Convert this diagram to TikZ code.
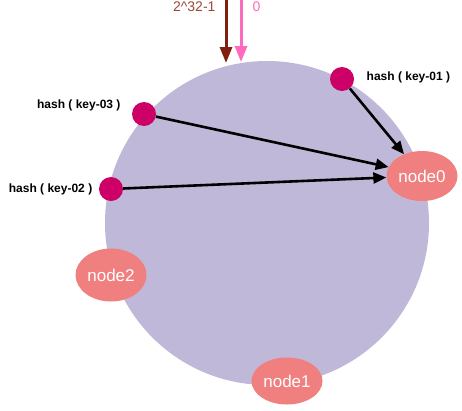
\documentclass[tikz,border=0pt]{standalone}
\usepackage{fontspec}
\setmainfont{Liberation Sans}
\usepackage{tikz}
\usetikzlibrary{arrows.meta,positioning,shapes.geometric}
\definecolor{ringfill}{RGB}{192,184,216}
\definecolor{serverred}{RGB}{240,128,128}
\definecolor{keydot}{RGB}{204,0,102}
\definecolor{maxbrown}{RGB}{128,30,16}
\definecolor{maxlabel}{RGB}{160,70,55}
\definecolor{zeropink}{RGB}{255,105,190}

\begin{document}
\begin{tikzpicture}[x=1pt, y=-1pt, node distance=4pt and 4pt,
  every node/.style={font=\fontsize{12}{14}\selectfont\bfseries},
  server/.style={ellipse, fill=serverred, text=white, inner sep=0pt,
    minimum width=71pt, minimum height=50pt, font=\fontsize{17}{20}\selectfont},
  keypt/.style={circle, fill=keydot, inner sep=0pt, minimum size=24pt},
  hashto/.style={-{Triangle[length=13pt,width=11pt]}, line width=2.6pt}]
  \useasboundingbox (0,0) rectangle (462,410);
  % the hash ring
  \fill[ringfill] (267,223) circle (162);
  \node[server] (n0) at (422,176) {node0};
  \node[server, minimum height=53pt] (n2) at (111,275) {node2};
  \node[server, minimum height=47pt] (n1) at (287,381) {node1};
  % keys on the ring
  \node[keypt] (k1) at (342,79) {};
  \node[keypt] (k3) at (144,114) {};
  \node[keypt] (k2) at (111,189) {};
  \node[right=9pt of k1, yshift=2pt] (l1) {hash ( key-01 )};
  \node[anchor=east] (l3) at (124,105) {hash ( key-03 )};
  \node[left=3pt of k2] (l2) {hash ( key-02 )};
  \draw[hashto] (k1) -- (n0);
  \draw[hashto] (k3) -- (n0.165);
  \draw[hashto] (k2) -- (n0);
  % start / end of the ring
  \coordinate (maxtop) at (226,0);
  \coordinate (maxbot) at (226,63);
  \coordinate (zerotop) at (241,0);
  \coordinate (zerobot) at (241,62);
  \draw[maxbrown, line width=3pt, -{Triangle[length=16pt,width=12pt]}] (maxtop) -- (maxbot);
  \draw[zeropink, line width=3pt, -{Triangle[length=16pt,width=12pt]}] (zerotop) -- (zerobot);
  \node[anchor=east, text=maxlabel, font=\fontsize{14}{16}\selectfont] (maxl) at (219,7) {2\^{}32-1};
  \node[anchor=west, text=zeropink, font=\fontsize{14}{16}\selectfont] (zerol) at (249,7) {0};
\end{tikzpicture}
\end{document}
